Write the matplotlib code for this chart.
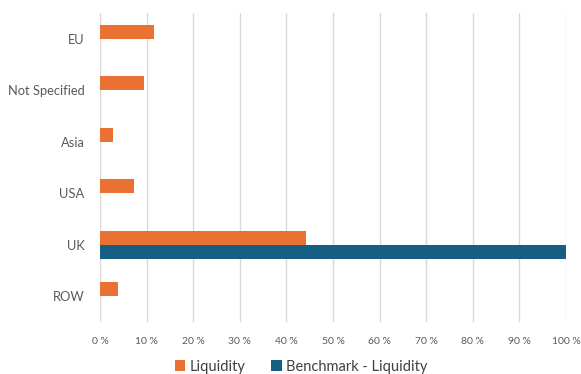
import matplotlib.pyplot as plt
import numpy as np

regions = ['EU', 'Not Specified', 'Asia', 'USA', 'UK', 'ROW']
liquidity = [11.5, 9.4, 2.8, 7.2, 44.2, 3.9]
benchmark = [0, 0, 0, 0, 100, 0]

plt.rcParams['font.family'] = ['Lato', 'DejaVu Sans']

fig = plt.figure(figsize=(5.81, 3.74), dpi=100)
ax = fig.add_axes([100/581, 52/374, 466/581, 309/374])

y = np.arange(len(regions))
h = 0.27
ax.barh(y - h/2, liquidity, height=h, color='#E97132', label='Liquidity', zorder=3)
ax.barh(y + h/2, benchmark, height=h, color='#156082', label='Benchmark - Liquidity', zorder=3)

ax.set_ylim(len(regions) - 0.5, -0.5)
ax.set_yticks(y)
ax.set_yticklabels(regions, fontsize=9.3, color='#595959')
ax.set_xlim(0, 100)
ax.set_xticks(np.arange(0, 101, 10))
ax.set_xticklabels(['{} %'.format(v) for v in range(0, 101, 10)], fontsize=7.5, color='#595959')
ax.tick_params(axis='x', length=0, pad=11)
ax.tick_params(axis='y', length=0, pad=11)
ax.grid(axis='x', color='#D9D9D9', linewidth=1, zorder=0)
for s in ax.spines.values():
    s.set_visible(False)

handles, labels = ax.get_legend_handles_labels()
fig.legend(handles, labels, loc='center', bbox_to_anchor=(0.518, 0.02), ncol=2, frameon=False,
           fontsize=10.5, handlelength=0.7, handleheight=0.7, handletextpad=0.3, columnspacing=1.8,
           labelcolor='#404040')

fig.savefig('out.png', dpi=100)
